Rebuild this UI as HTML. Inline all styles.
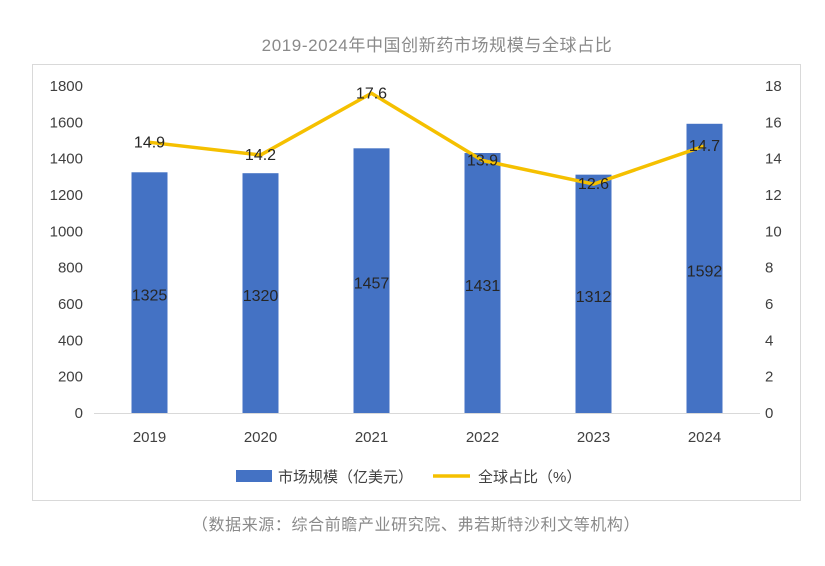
<!DOCTYPE html>
<html><head><meta charset="utf-8"><style>
body{margin:0;background:#fff;width:825px;height:561px;overflow:hidden;font-family:"Liberation Sans","Noto Sans CJK SC",sans-serif}
</style></head><body>
<svg width="825" height="561" xmlns="http://www.w3.org/2000/svg" font-family="Liberation Sans, Noto Sans CJK SC, sans-serif">
<text x="437" y="51" text-anchor="middle" font-size="17" letter-spacing="0.6" fill="#8a8a8a">2019-2024年中国创新药市场规模与全球占比</text>
<rect x="32.5" y="64.5" width="768" height="436" fill="#fff" stroke="#d9d9d9" stroke-width="1"/>
<g id="chart"></g>
<g>
<rect x="236" y="470" width="36" height="12" fill="#4472c4"/>
<text x="278" y="482" font-size="15" fill="#404040">市场规模（亿美元）</text>
<line x1="433" y1="476" x2="470" y2="476" stroke="#f5c000" stroke-width="3.5"/>
<text x="478" y="482" font-size="15" fill="#404040">全球占比（%）</text>
</g>
<text x="416" y="530" text-anchor="middle" font-size="16" letter-spacing="0.6" fill="#8a8a8a">（数据来源：综合前瞻产业研究院、弗若斯特沙利文等机构）</text>
</svg>
<script>
const categories=["2019","2020","2021","2022","2023","2024"];
const marketSize=[1325,1320,1457,1431,1312,1592];
const globalShare=[14.9,14.2,17.6,13.9,12.6,14.7];
const leftTicks=[0,200,400,600,800,1000,1200,1400,1600,1800];
const rightTicks=[0,2,4,6,8,10,12,14,16,18];
const NS="http://www.w3.org/2000/svg";
const g=document.getElementById('chart');
const y0=413,y1=86,x0=94,band=111;
const yL=v=>y0-(v/1800)*(y0-y1);
const yR=v=>y0-(v/18)*(y0-y1);
const xC=i=>x0+band*(i+0.5);
function mk(t,a){const e=document.createElementNS(NS,t);for(const k in a)e.setAttribute(k,a[k]);g.appendChild(e);return e;}
const ax=mk('line',{x1:x0,x2:x0+band*6,y1:y0+0.5,y2:y0+0.5,stroke:'#d9d9d9'});


leftTicks.forEach(v=>{const t=mk('text',{x:83,y:yL(v)+5,'text-anchor':'end','font-size':15,fill:'#404040'});t.textContent=v;

});
rightTicks.forEach(v=>{const t=mk('text',{x:765,y:yR(v)+5,'text-anchor':'start','font-size':15,fill:'#404040'});t.textContent=v;

});
categories.forEach((c,i)=>{const t=mk('text',{x:xC(i),y:442,'text-anchor':'middle','font-size':15,fill:'#404040'});t.textContent=c;

});
marketSize.forEach((v,i)=>{const r=mk('rect',{x:xC(i)-18,y:yL(v),width:36,height:y0-yL(v),fill:'#4472c4'});

});
const pts=globalShare.map((v,i)=>xC(i)+','+yR(v)).join(' ');
const pl=mk('polyline',{points:pts,fill:'none',stroke:'#f5c000','stroke-width':3.5,'stroke-linejoin':'round'});


marketSize.forEach((v,i)=>{const t=mk('text',{x:xC(i),y:(yL(v)+y0)/2+8,'text-anchor':'middle','font-size':16,fill:'#262626'});t.textContent=v;

});
globalShare.forEach((v,i)=>{const t=mk('text',{x:xC(i),y:yR(v)+5,'text-anchor':'middle','font-size':16,fill:'#262626'});t.textContent=v;

});
</script>
</body></html>
